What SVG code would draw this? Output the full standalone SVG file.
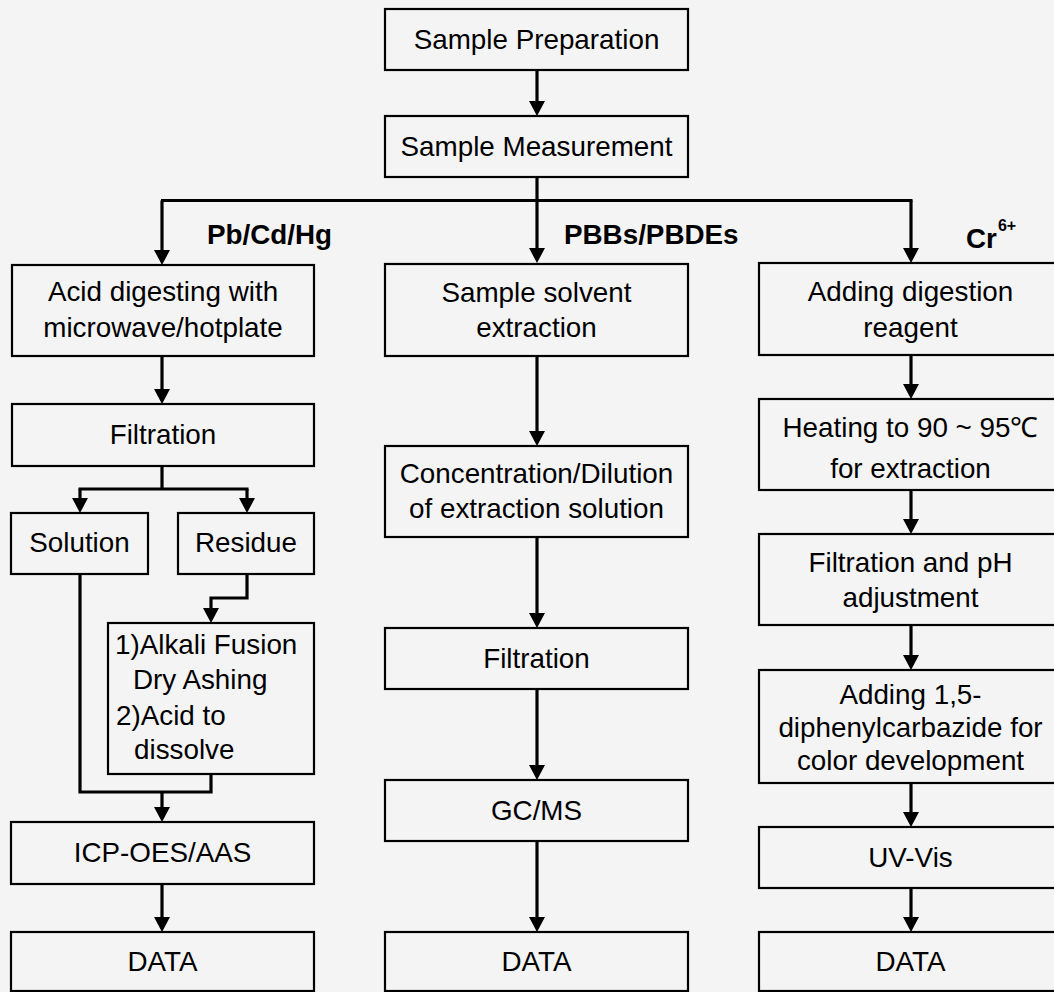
<svg xmlns="http://www.w3.org/2000/svg" width="1054" height="992" viewBox="0 0 1054 992">
<style>
.box{fill:#f4f4f4;stroke:#000;stroke-width:2.2}
.t{font-family:"Liberation Sans",Arial,sans-serif;font-size:27.8px;fill:#000;text-anchor:middle}
.l{text-anchor:start}
.b{font-weight:bold;text-anchor:start}
.c{fill:none;stroke:#000;stroke-width:3.2;stroke-linejoin:miter}
.a{marker-end:url(#ah)}
</style>
<defs>
<marker id="ah" markerUnits="userSpaceOnUse" markerWidth="15" markerHeight="16" viewBox="0 0 15 16" refX="0" refY="8" orient="auto"><path d="M0,0 L15,8 L0,16 z" fill="#000"/></marker>
</defs>
<rect x="0" y="0" width="1054" height="992" fill="#f4f4f4"/>

<g id="connectors">
<path class="c a" d="M537,70 V101"/>
<path class="c" d="M161,200.5 H912.5"/>
<path class="c a" d="M537,177 V248"/>
<path class="c a" d="M162,200.5 V250"/>
<path class="c a" d="M911,200.5 V248"/>
<path class="c a" d="M162,356 V389"/>
<path class="c" d="M162,466 V489"/>
<path class="c" d="M78.5,489 H248.5"/>
<path class="c a" d="M80,489 V498"/>
<path class="c a" d="M247,489 V498"/>
<path class="c a" d="M247,574 V598 H211 V608"/>
<path class="c" d="M80,574 V792 H211 V774"/>
<path class="c a" d="M162,792 V807"/>
<path class="c a" d="M162,884 V917"/>
<path class="c a" d="M537,356 V431"/>
<path class="c a" d="M537,537 V613"/>
<path class="c a" d="M537,689 V765"/>
<path class="c a" d="M537,841 V917"/>
<path class="c a" d="M911,355 V384"/>
<path class="c a" d="M911,490 V519"/>
<path class="c a" d="M911,625 V655"/>
<path class="c a" d="M911,783 V812"/>
<path class="c a" d="M911,888 V917"/>
</g>

<g id="labels">
<text class="t b" x="207" y="243.5">Pb/Cd/Hg</text>
<text class="t b" x="564" y="243.5">PBBs/PBDEs</text>
<text class="t b" x="966" y="248">Cr<tspan font-size="16" dy="-17" dx="1">6+</tspan></text>
</g>

<g id="n-prep"><rect class="box" x="385" y="9" width="303" height="61"/><text class="t" x="536.5" y="48.5">Sample Preparation</text></g>
<g id="n-meas"><rect class="box" x="385" y="116" width="303" height="61"/><text class="t" x="536.5" y="155.5">Sample Measurement</text></g>

<g id="n-acid"><rect class="box" x="12" y="265" width="302" height="91"/><text class="t" x="163" y="301">Acid digesting with</text><text class="t" x="163" y="337">microwave/hotplate</text></g>
<g id="n-filt1"><rect class="box" x="12" y="404" width="302" height="62"/><text class="t" x="163" y="444">Filtration</text></g>
<g id="n-sol"><rect class="box" x="11" y="513" width="137" height="61"/><text class="t" x="79.5" y="552">Solution</text></g>
<g id="n-res"><rect class="box" x="178" y="513" width="136" height="61"/><text class="t" x="246" y="552">Residue</text></g>
<g id="n-alk"><rect class="box" x="108" y="623" width="206" height="151"/>
<text class="t l" x="115" y="654">1)Alkali Fusion</text>
<text class="t l" x="133" y="689">Dry Ashing</text>
<text class="t l" x="116" y="725">2)Acid to</text>
<text class="t l" x="134" y="759">dissolve</text></g>
<g id="n-icp"><rect class="box" x="11" y="822" width="303" height="62"/><text class="t" x="162.5" y="862">ICP-OES/AAS</text></g>
<g id="n-data1"><rect class="box" x="11" y="932" width="303" height="59"/><text class="t" x="162.5" y="970.5">DATA</text></g>

<g id="n-solv"><rect class="box" x="385" y="264" width="303" height="92"/><text class="t" x="536.5" y="302">Sample solvent</text><text class="t" x="536.5" y="337">extraction</text></g>
<g id="n-conc"><rect class="box" x="385" y="446" width="303" height="91"/><text class="t" x="536.5" y="483">Concentration/Dilution</text><text class="t" x="536.5" y="518">of extraction solution</text></g>
<g id="n-filt2"><rect class="box" x="385" y="628" width="303" height="61"/><text class="t" x="536.5" y="667.5">Filtration</text></g>
<g id="n-gcms"><rect class="box" x="385" y="780" width="303" height="61"/><text class="t" x="536.5" y="819.5">GC/MS</text></g>
<g id="n-data2"><rect class="box" x="385" y="932" width="303" height="59"/><text class="t" x="536.5" y="970.5">DATA</text></g>

<g id="n-dig"><rect class="box" x="759" y="263" width="303" height="92"/><text class="t" x="910.5" y="301">Adding digestion</text><text class="t" x="910.5" y="337">reagent</text></g>
<g id="n-heat"><rect class="box" x="759" y="399" width="303" height="91"/><text class="t" x="910.5" y="437">Heating to 90 ~ 95℃</text><text class="t" x="910.5" y="478">for extraction</text></g>
<g id="n-ph"><rect class="box" x="759" y="534" width="303" height="91"/><text class="t" x="910.5" y="572">Filtration and pH</text><text class="t" x="910.5" y="607">adjustment</text></g>
<g id="n-dpc"><rect class="box" x="759" y="670" width="303" height="113"/><text class="t" x="910.5" y="703.5">Adding 1,5-</text><text class="t" x="910.5" y="736.5">diphenylcarbazide for</text><text class="t" x="910.5" y="769.5">color development</text></g>
<g id="n-uv"><rect class="box" x="759" y="827" width="303" height="61"/><text class="t" x="910.5" y="866.5">UV-Vis</text></g>
<g id="n-data3"><rect class="box" x="759" y="932" width="303" height="59"/><text class="t" x="910.5" y="970.5">DATA</text></g>
</svg>
